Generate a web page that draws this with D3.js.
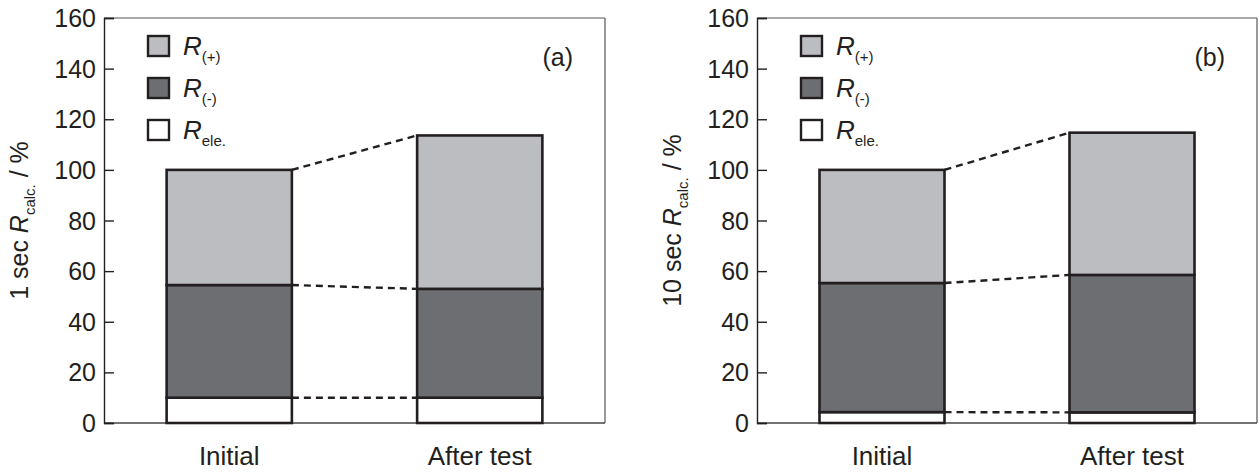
<!DOCTYPE html>
<html lang="en">
<head>
  <meta charset="UTF-8" />
  <title>R calc. breakdown</title>
  <style>
    body { margin: 0; background: #fff; font-family: "Liberation Sans", Arial, sans-serif; }
    svg { display: block; }
  </style>
</head>
<body>
  <svg id="chart" width="1260" height="474"></svg>

  <script src="https://d3js.org/d3.v7.min.js"></script>
  <script>
    // data (stacked percentages)
    const categories = ["Initial", "After test"];
    const seriesKeys = ["ele", "minus", "plus"];
    const yTicks = [0, 20, 40, 60, 80, 100, 120, 140, 160];

    const panelA_ele   = [10, 10];
    const panelA_minus = [44.5, 43];
    const panelA_plus  = [45.5, 60.6];

    const panelB_ele   = [4.3, 4.2];
    const panelB_minus = [51, 54.3];
    const panelB_plus  = [44.7, 56.2];

    const colors = { ele: "#ffffff", minus: "#6d6e71", plus: "#bcbdc0" };
    const ink = "#231f20";

    const svg = d3.select("#chart");

    function rows(ele, minus, plus) {
      return categories.map((c, i) => ({ cat: c, ele: ele[i], minus: minus[i], plus: plus[i] }));
    }

    function drawPanel(left, width, data, secLabel, tag) {
      const top = 18, height = 405;
      const g = svg.append("g").attr("transform", `translate(${left},${top})`);

      const x = d3.scalePoint().domain(categories).range([0, width]).padding(0.5);
      const barW = x.step() * 0.5;
      const y = d3.scaleLinear().domain([0, 160]).range([height, 0]);

      // frame: top & right thin grey
      g.append("line").attr("x1", 0).attr("x2", width).attr("y1", 0).attr("y2", 0)
        .attr("stroke", "#555").attr("stroke-width", 1.2);
      g.append("line").attr("x1", width).attr("x2", width).attr("y1", 0).attr("y2", height)
        .attr("stroke", "#555").attr("stroke-width", 1.2);
      g.append("line").attr("x1", 0).attr("x2", width).attr("y1", height).attr("y2", height)
        .attr("stroke", "#444").attr("stroke-width", 1.4);

      // left axis, ticks pointing inward
      const yAxis = g.append("g")
        .call(d3.axisRight(y).tickValues(yTicks).tickSize(10).tickFormat(""));
      yAxis.select(".domain").attr("stroke", ink).attr("stroke-width", 1.4);
      yAxis.selectAll(".tick line").attr("stroke", ink).attr("stroke-width", 1.4);

      g.selectAll(".ylab")
        .data(yTicks)
        .join("text")
        .attr("x", -8)
        .attr("y", d => y(d))
        .attr("dy", "0.36em")
        .attr("text-anchor", "end")
        .attr("font-size", 25)
        .attr("fill", ink)
        .text(d => d);

      const stacked = d3.stack().keys(seriesKeys)(data);

      // dashed connectors between the two bars at each boundary
      stacked.forEach(layer => {
        g.append("line")
          .attr("x1", x(categories[0]) + barW / 2)
          .attr("y1", y(layer[0][1]))
          .attr("x2", x(categories[1]) - barW / 2)
          .attr("y2", y(layer[1][1]))
          .attr("stroke", ink)
          .attr("stroke-width", 2.4)
          .attr("stroke-dasharray", "7,5");
      });

      stacked.forEach(layer => {
        g.selectAll(null)
          .data(layer)
          .join("rect")
          .attr("x", d => x(d.data.cat) - barW / 2)
          .attr("y", d => y(d[1]))
          .attr("width", barW)
          .attr("height", d => y(d[0]) - y(d[1]))
          .attr("fill", colors[layer.key])
          .attr("stroke", ink)
          .attr("stroke-width", 2.6);
      });

      // category labels
      g.selectAll(".xlab")
        .data(categories)
        .join("text")
        .attr("x", d => x(d))
        .attr("y", height + 42)
        .attr("text-anchor", "middle")
        .attr("font-size", 26)
        .attr("fill", ink)
        .text(d => d);

      // panel tag
      g.append("text")
        .attr("x", width - 32)
        .attr("y", 48)
        .attr("text-anchor", "end")
        .attr("font-size", 25)
        .attr("fill", ink)
        .text(tag);

      // legend
      const legend = [
        { key: "plus", sub: "(+)" },
        { key: "minus", sub: "(-)" },
        { key: "ele", sub: "ele." }
      ];
      const lg = g.selectAll(".leg")
        .data(legend)
        .join("g")
        .attr("transform", (d, i) => `translate(44,${18 + i * 42})`);
      lg.append("rect")
        .attr("width", 21).attr("height", 20)
        .attr("fill", d => colors[d.key])
        .attr("stroke", ink)
        .attr("stroke-width", 2.4);
      const lt = lg.append("text")
        .attr("x", 35).attr("y", 19)
        .attr("font-size", 26)
        .attr("fill", ink);
      lt.append("tspan").attr("font-style", "italic").text("R");
      lt.append("tspan").attr("font-size", 15).attr("dy", 7).text(d => d.sub);

      // y axis title
      const yt = svg.append("text")
        .attr("transform", `translate(${left - 76},${top + height / 2}) rotate(-90)`)
        .attr("text-anchor", "middle")
        .attr("font-size", 25)
        .attr("fill", ink);
      yt.append("tspan").text(secLabel + " ");
      yt.append("tspan").attr("font-style", "italic").text("R");
      yt.append("tspan").attr("font-size", 15).attr("dy", 7).text("calc.");
      yt.append("tspan").attr("dy", -7).text("  / %");
    }

    drawPanel(104, 501, rows(panelA_ele, panelA_minus, panelA_plus), "1 sec", "(a)");
    drawPanel(757, 500, rows(panelB_ele, panelB_minus, panelB_plus), "10 sec", "(b)");
  </script>
</body>
</html>
